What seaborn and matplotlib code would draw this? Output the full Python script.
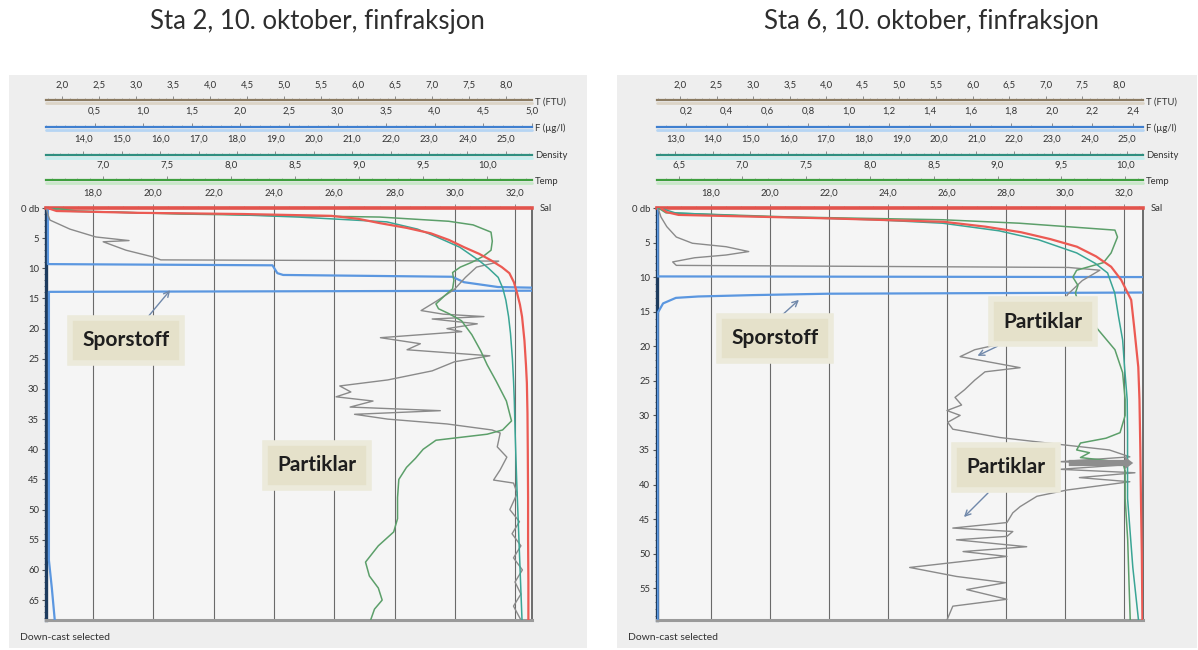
import pandas as pd
import matplotlib
matplotlib.use("Agg")
import matplotlib.pyplot as plt
from matplotlib.lines import Line2D
from matplotlib.patches import Rectangle, FancyArrowPatch
from matplotlib.ticker import FixedLocator, MultipleLocator, FuncFormatter
import seaborn as sns

# ---------------- Sta 2 (depth in dbar) ----------------
s2_sal_d = [0.0, 0.5, 0.8, 1.0, 1.3, 1.8, 2.5, 3.3, 4.2, 5.3, 6.5, 7.6, 8.7, 9.8, 10.8,
            12.3, 14.0, 16.0, 18.0, 22.0, 26.0, 29.0, 34.0, 40.0, 48.0, 55.0, 62.0, 68.3]
s2_sal = [16.5, 16.8, 19.5, 23.0, 25.9, 26.8, 27.5, 28.4, 29.2, 29.8, 30.3, 30.8, 31.2, 31.55, 31.8,
          31.95, 32.05, 32.15, 32.22, 32.3, 32.35, 32.38, 32.4, 32.41, 32.42, 32.42, 32.43, 32.43]

s2_den_d = [0.0, 0.5, 0.8, 1.0, 1.5, 2.3, 3.5, 4.8, 6.5, 8.7, 10.0, 11.5, 13.3, 15.3, 18.0,
            20.8, 25.0, 28.7, 32.0, 37.0, 45.0, 55.0, 68.3]
s2_den = [13.1, 13.4, 15.5, 17.5, 19.6, 21.9, 22.7, 23.2, 23.8, 24.3, 24.55, 24.8, 24.92, 25.0, 25.07,
          25.12, 25.17, 25.2, 25.22, 25.24, 25.28, 25.34, 25.42]

s2_tmp_d = [0.0, 0.5, 1.0, 1.5, 2.2, 2.8, 4.0, 5.5, 7.0, 8.0, 9.0, 9.8, 10.7, 12.0, 13.4, 14.5,
            15.9, 16.7, 17.5, 18.7, 21.0, 23.7, 26.0, 28.7, 32.0, 35.3, 36.8, 37.5, 38.5, 40.0,
            41.5, 43.0, 45.0, 48.0, 51.5, 53.7, 56.0, 58.7, 61.0, 63.0, 65.0, 66.5, 68.3]
s2_tmp = [6.6, 6.8, 7.6, 9.16, 9.7, 9.89, 10.03, 10.04, 10.03, 9.97, 9.88, 9.79, 9.73, 9.74, 9.73, 9.67,
          9.6, 9.62, 9.7, 9.8, 9.88, 9.95, 10.0, 10.07, 10.15, 10.19, 10.12, 10.0, 9.6, 9.5,
          9.44, 9.37, 9.31, 9.3, 9.3, 9.27, 9.15, 9.05, 9.08, 9.15, 9.18, 9.12, 9.09]

s2_ftu_d = [0.0, 1.0, 2.0, 3.5, 4.8, 5.2, 5.4, 5.6, 7.0, 8.1, 8.6, 8.8, 9.1, 9.8, 11.5, 13.5, 15.5,
            17.0, 17.6, 18.0, 18.4, 19.2, 20.0, 20.5, 21.5, 22.5, 23.5, 24.5, 25.5, 27.0, 28.5,
            29.5, 30.5, 31.3, 32.0, 33.0, 33.6, 34.2, 35.0, 35.8, 36.8, 37.3, 39.6, 41.3, 43.4,
            45.1, 45.6, 47.3, 50.0, 52.0, 54.0, 56.0, 58.0, 60.0, 62.0, 64.0, 66.0, 68.3]
s2_ftu = [1.78, 1.8, 1.83, 2.1, 2.45, 2.75, 2.9, 2.55, 2.86, 3.22, 3.33, 7.9, 7.84, 7.6, 7.45, 7.3, 7.05,
          6.85, 7.15, 7.7, 7.0, 7.61, 7.2, 7.4, 6.3, 6.84, 6.66, 7.78, 7.3, 7.0, 6.4,
          5.75, 5.9, 5.7, 6.2, 5.89, 7.11, 5.95, 6.4, 7.2, 7.81, 7.92, 7.88, 8.01, 7.92,
          7.83, 8.1, 8.15, 8.05, 8.18, 8.08, 8.2, 8.1, 8.22, 8.12, 8.2, 8.1, 8.2]

s2_f_d = [0.0, 9.3, 9.5, 10.8, 11.1, 11.4, 12.3, 13.1, 13.3, 13.7, 13.9, 58.4, 63.0, 68.3]
s2_f = [0.02, 0.02, 2.33, 2.38, 2.44, 4.18, 4.3, 4.65, 5.3, 5.3, 0.03, 0.03, 0.06, 0.09]

# ---------------- Sta 6 (depth in dbar) ----------------
s6_sal_d = [0.0, 0.6, 1.0, 1.5, 2.0, 2.7, 3.5, 4.5, 5.6, 7.0, 8.5, 10.4, 13.3, 17.2, 23.0, 27.7,
            35.0, 42.0, 50.0, 59.6]
s6_sal = [16.3, 16.5, 16.9, 22.0, 25.9, 27.3, 28.5, 29.5, 30.4, 31.05, 31.56, 31.9, 32.24, 32.34, 32.48, 32.52,
          32.55, 32.57, 32.6, 32.62]

s6_den_d = [0.0, 0.7, 1.2, 1.7, 2.2, 3.3, 4.6, 6.5, 8.0, 9.4, 12.3, 15.7, 19.1, 23.0, 27.7, 32.5,
            42.0, 52.0, 59.6]
s6_den = [12.6, 13.0, 15.0, 18.3, 20.1, 21.6, 22.65, 23.66, 24.15, 24.48, 24.67, 24.77, 24.88, 24.93, 25.0, 25.01,
          25.01, 25.15, 25.3]

s6_tmp_d = [0.0, 0.7, 1.3, 1.7, 2.2, 3.2, 4.2, 6.5, 7.9, 9.0, 10.0, 11.2, 12.3, 14.7, 17.2, 20.5,
            23.8, 27.7, 30.0, 32.5, 33.3, 34.0, 35.0, 35.4, 36.1, 36.8, 38.0, 42.0, 48.0, 54.0, 59.6]
s6_tmp = [6.34, 6.4, 7.38, 8.57, 9.17, 9.92, 9.94, 9.89, 9.83, 9.62, 9.59, 9.63, 9.61, 9.65, 9.77, 9.92,
          9.98, 10.0, 10.0, 9.96, 9.85, 9.65, 9.62, 9.72, 9.65, 9.98, 10.0, 10.0, 10.02, 10.03, 10.04]

s6_ftu_d = [0.0, 1.3, 2.7, 4.2, 5.1, 5.6, 6.3, 6.8, 7.2, 7.8, 8.3, 8.6, 9.0, 10.5, 12.5, 14.5, 16.5,
            18.4, 20.5, 21.5, 22.3, 23.1, 23.7, 24.9, 26.3, 27.4, 28.5, 29.3, 30.0, 31.0, 32.0,
            33.2, 34.2, 35.0, 36.0, 36.7, 37.1, 37.8, 38.3, 39.0, 39.6, 40.8, 41.7, 43.2, 44.1,
            45.5, 46.3, 46.8, 47.5, 48.0, 49.0, 49.7, 50.4, 52.0, 53.3, 54.2, 55.2, 56.6, 57.6, 59.6]
s6_ftu = [1.7, 1.74, 1.82, 1.95, 2.17, 2.63, 2.94, 2.63, 2.2, 1.9, 1.95, 7.31, 7.74, 7.5, 7.3, 7.2, 7.05,
          6.92, 6.03, 5.83, 6.24, 6.65, 6.17, 6.03, 5.89, 5.76, 5.85, 5.65, 5.83, 5.66, 5.73,
          6.37, 7.19, 7.87, 8.15, 7.19, 8.15, 7.19, 8.22, 7.46, 8.15, 7.29, 6.88, 6.65, 6.55,
          6.47, 5.73, 6.55, 6.47, 5.78, 6.74, 5.87, 6.47, 5.14, 5.78, 6.45, 5.92, 6.47, 5.73, 5.65]

s6_f_d = [0.0, 9.9, 10.0, 12.2, 12.4, 12.6, 12.8, 13.0, 13.8, 15.2, 59.6]
s6_f = [0.06, 0.06, 2.7, 2.7, 0.9, 0.53, 0.26, 0.15, 0.087, 0.06, 0.06]

# ---------------- scale ranges and tick labels ----------------
s2_lims = {"ftu": (1.777, 8.35), "f": (0.0, 5.0), "den": (13.03, 25.68),
           "tmp": (6.555, 10.35), "sal": (16.45, 32.55)}
s6_lims = {"ftu": (1.686, 8.33), "f": (0.057, 2.45), "den": (12.52, 25.42),
           "tmp": (6.33, 10.14), "sal": (16.17, 32.64)}

s2_ticks_ftu = [2.0, 2.5, 3.0, 3.5, 4.0, 4.5, 5.0, 5.5, 6.0, 6.5, 7.0, 7.5, 8.0]
s2_ticks_f = [0.5, 1.0, 1.5, 2.0, 2.5, 3.0, 3.5, 4.0, 4.5, 5.0]
s2_ticks_den = [13.0, 14.0, 15.0, 16.0, 17.0, 18.0, 19.0, 20.0, 21.0, 22.0, 23.0, 24.0, 25.0]
s2_ticks_tmp = [7.0, 7.5, 8.0, 8.5, 9.0, 9.5, 10.0]
s2_ticks_sal = [18.0, 20.0, 22.0, 24.0, 26.0, 28.0, 30.0, 32.0]

s6_ticks_ftu = [2.0, 2.5, 3.0, 3.5, 4.0, 4.5, 5.0, 5.5, 6.0, 6.5, 7.0, 7.5, 8.0]
s6_ticks_f = [0.2, 0.4, 0.6, 0.8, 1.0, 1.2, 1.4, 1.6, 1.8, 2.0, 2.2, 2.4]
s6_ticks_den = [13.0, 14.0, 15.0, 16.0, 17.0, 18.0, 19.0, 20.0, 21.0, 22.0, 23.0, 24.0, 25.0]
s6_ticks_tmp = [6.5, 7.0, 7.5, 8.0, 8.5, 9.0, 9.5, 10.0]
s6_ticks_sal = [18.0, 20.0, 22.0, 24.0, 26.0, 28.0, 30.0, 32.0]

channel_names = {"ftu": "T (FTU)", "f": "F (µg/l)", "den": "Density", "tmp": "Temp", "sal": "Sal"}

# ---------------- figure setup ----------------
sns.set_theme(style="white")
plt.rcParams["font.family"] = ["Lato", "DejaVu Sans"]

W, H = 1198, 650
fig = plt.figure(figsize=(W / 100, H / 100), dpi=100, facecolor="white")


def fx(x):
    return x / W


def fy(y):
    return 1 - y / H


def rect(x0, y0, x1, y1):
    return [fx(x0), fy(y1), (x1 - x0) / W, (y1 - y0) / H]


def comma(v, _pos=None):
    return f"{v:.1f}".replace(".", ",")


STYLE = {
    "ftu": dict(line="#8b7b62", band="#dcd4c6", trace="#8a8a8a", lw=1.0),
    "f": dict(line="#3f7fcf", band="#b6d5f3", trace="#5b97e0", lw=1.6),
    "den": dict(line="#2f8f80", band="#c6eeee", trace="#3aa595", lw=1.1),
    "tmp": dict(line="#3e9e3e", band="#c8e8c8", trace="#5c9f6a", lw=1.1),
    "sal": dict(line="#e2534c", band="#f6bcb7", trace="#ec5a53", lw=1.6),
}

STRIP_Y = {"ftu": 100.7, "f": 127.0, "den": 155.0, "tmp": 180.5}
MINOR = {"ftu": 0.1, "f": 0.1, "den": 0.2, "tmp": 0.1}


def fig_arrow(p0, p1, **kw):
    arr = FancyArrowPatch((fx(p0[0]), fy(p0[1])), (fx(p1[0]), fy(p1[1])),
                          transform=fig.transFigure, zorder=6, **kw)
    fig.add_artist(arr)


def callout(text, center, arrows=()):
    fig.text(fx(center[0]), fy(center[1]), text, ha="center", va="center",
             fontsize=15, fontweight="bold", color="#1e1e1e", zorder=7,
             bbox=dict(boxstyle="square,pad=0.6", fc="#e5e1ca", ec="#eceadb", lw=4))
    for a in arrows:
        fig_arrow(a[0], a[1], arrowstyle="->", mutation_scale=10, color="#7088aa", lw=1.0)


def draw_station(st):
    px0, py0, px1, py1 = st["plot"]
    bx0, by0, bx1, by1 = st["panel"]
    fig.add_artist(Rectangle((fx(bx0), fy(by1)), (bx1 - bx0) / W, (by1 - by0) / H,
                             transform=fig.transFigure, facecolor="#eeeeee",
                             edgecolor="none", zorder=-1))

    lims = st["lims"]
    ax = fig.add_axes(rect(px0, py0, px1, py1))
    ax.set_facecolor("#f5f5f5")
    ax.set_xlim(lims["sal"])

    # profiles, each on its own horizontal scale
    for ch in ["f", "ftu", "tmp", "den", "sal"]:
        depth, values = st["data"][ch]
        tw = ax.twiny()
        sns.lineplot(x=values, y=depth, sort=False, estimator=None, ax=tw,
                     color=STYLE[ch]["trace"], linewidth=STYLE[ch]["lw"])
        tw.set_xlim(lims[ch])
        tw.axis("off")
    ax.set_ylim(st["depth_max"], 0)

    # salinity scale on the top edge of the profile frame
    ax.xaxis.set_ticks_position("top")
    ax.xaxis.set_label_position("top")
    ax.xaxis.set_major_locator(FixedLocator(st["ticks"]["sal"]))
    ax.xaxis.set_minor_locator(MultipleLocator(0.5))
    ax.xaxis.set_major_formatter(FuncFormatter(comma))
    ax.tick_params(axis="x", which="major", top=True, bottom=False, labeltop=True,
                   labelbottom=False, length=3, width=0.7, color="#888888",
                   labelsize=6.8, labelcolor="#333333", pad=4.5)
    ax.tick_params(axis="x", which="minor", top=True, bottom=False, length=1.8,
                   width=0.5, color="#999999")
    ax.grid(True, axis="x", which="major", color="#6a6a6a", lw=0.8)
    ax.grid(False, axis="y")

    # depth axis
    ax.yaxis.set_major_locator(MultipleLocator(5))
    ax.yaxis.set_minor_locator(MultipleLocator(1))
    ax.yaxis.set_major_formatter(FuncFormatter(lambda v, p: "0 db" if v == 0 else f"{int(v)}"))
    ax.tick_params(axis="y", which="major", left=True, length=3, width=0.8, color="#555555",
                   labelsize=6.8, labelcolor="#333333", pad=2)
    ax.tick_params(axis="y", which="minor", left=True, length=1.8, width=0.6, color="#666666")

    ax.spines["left"].set_color("#1d3b5e")
    ax.spines["left"].set_linewidth(2.4)
    ax.spines["bottom"].set_color("#9a9a9a")
    ax.spines["bottom"].set_linewidth(2.2)
    ax.spines["right"].set_color("#555555")
    ax.spines["right"].set_linewidth(1.2)
    ax.spines["top"].set_color(STYLE["sal"]["line"])
    ax.spines["top"].set_linewidth(2.6)
    for s in ax.spines.values():
        s.set_visible(True)

    # stacked scale bars above the frame
    for ch in ["ftu", "f", "den", "tmp"]:
        y = STRIP_Y[ch]
        sax = fig.add_axes(rect(px0, y - 0.5, px1, y + 0.5))
        sax.set_xlim(lims[ch])
        sax.set_ylim(0, 1)
        sax.patch.set_visible(False)
        for s in ("left", "right", "bottom"):
            sax.spines[s].set_visible(False)
        sax.spines["top"].set_visible(True)
        sax.spines["top"].set_color(STYLE[ch]["line"])
        sax.spines["top"].set_linewidth(1.6)
        sax.set_yticks([])
        sax.xaxis.set_ticks_position("top")
        sax.xaxis.set_major_locator(FixedLocator(st["ticks"][ch]))
        sax.xaxis.set_minor_locator(MultipleLocator(MINOR[ch]))
        sax.xaxis.set_major_formatter(FuncFormatter(comma))
        sax.tick_params(axis="x", which="major", top=True, bottom=False, labeltop=True,
                        labelbottom=False, length=3, width=0.7, color="#8a8a8a",
                        labelsize=6.8, labelcolor="#333333", pad=4.5)
        sax.tick_params(axis="x", which="minor", top=True, bottom=False, length=1.8,
                        width=0.5, color="#a0a0a0")
        fig.add_artist(Line2D([fx(px0), fx(px1)], [fy(y + 2.6)] * 2,
                              color=STYLE[ch]["band"], lw=2.0, zorder=1))
        fig.text(fx(px1 + 3), fy(y + 1), channel_names[ch], fontsize=6.8,
                 color="#333333", ha="left", va="center")
    fig.text(fx(px1 + 8), fy(py0), channel_names["sal"], fontsize=6.8,
             color="#333333", ha="left", va="center")

    fig.text(fx(st["title_x"]), fy(22), st["title"], fontsize=18.5, color="#2e2e2e",
             ha="center", va="center")
    fig.text(fx(bx0 + 11), fy(637), "Down-cast selected", fontsize=7.5,
             color="#333333", ha="left", va="center")


stations = [
    dict(title="Sta 2, 10. oktober, finfraksjon", title_x=317,
         panel=(9, 75, 587, 648), plot=(46, 208, 532, 620), depth_max=68.3,
         lims=s2_lims,
         ticks={"ftu": s2_ticks_ftu, "f": s2_ticks_f, "den": s2_ticks_den,
                "tmp": s2_ticks_tmp, "sal": s2_ticks_sal},
         data={"ftu": (s2_ftu_d, s2_ftu), "f": (s2_f_d, s2_f), "den": (s2_den_d, s2_den),
               "tmp": (s2_tmp_d, s2_tmp), "sal": (s2_sal_d, s2_sal)}),
    dict(title="Sta 6, 10. oktober, finfraksjon", title_x=931,
         panel=(617, 75, 1197, 648), plot=(657, 208, 1143, 620), depth_max=59.6,
         lims=s6_lims,
         ticks={"ftu": s6_ticks_ftu, "f": s6_ticks_f, "den": s6_ticks_den,
                "tmp": s6_ticks_tmp, "sal": s6_ticks_sal},
         data={"ftu": (s6_ftu_d, s6_ftu), "f": (s6_f_d, s6_f), "den": (s6_den_d, s6_den),
               "tmp": (s6_tmp_d, s6_tmp), "sal": (s6_sal_d, s6_sal)}),
]

for st in stations:
    draw_station(st)

# annotations
callout("Sporstoff", (126, 340), [((147, 318), (172, 288))])
callout("Partiklar", (317, 465))
callout("Sporstoff", (775, 338), [((780, 317), (801, 298))])
callout("Partiklar", (1043, 322), [((1000, 345), (975, 357))])
callout("Partiklar", (1006, 467), [((990, 491), (962, 519))])
fig_arrow((1066, 463), (1136, 463),
          arrowstyle="simple,head_length=0.6,head_width=0.9,tail_width=0.45",
          mutation_scale=10, color="#8e8e8e", lw=0)

fig.savefig("out.png", dpi=100, facecolor="white")
